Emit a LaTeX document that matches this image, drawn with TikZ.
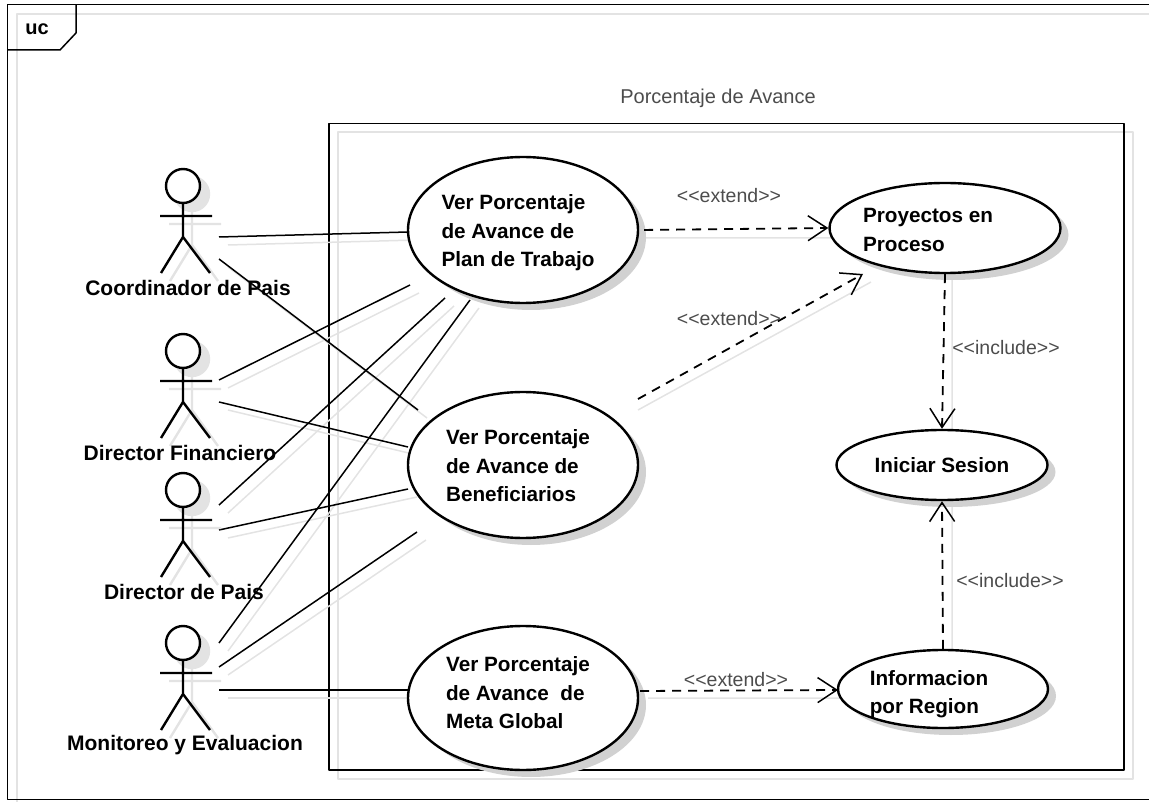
\documentclass[tikz,border=0pt]{standalone}
\usepackage{fontspec}
\setmainfont{Liberation Sans}
\usetikzlibrary{arrows.meta,shapes.geometric,shadows}
\definecolor{sombra}{gray}{.89}
\definecolor{rotulo}{gray}{.3}
\tikzset{
  usecase/.style={ellipse,draw,line width=2.4pt,fill=white,inner sep=0pt,
    drop shadow={shadow xshift=8pt,shadow yshift=-7pt,fill=black!18,opacity=1}},
  casetext/.style={align=left,font=\fontsize{20.7}{28.5}\selectfont\bfseries},
  actorname/.style={font=\fontsize{21}{24}\selectfont\bfseries},
  stereo/.style={text=rotulo,font=\fontsize{19.5}{24}\selectfont},
  dep/.style={dashed,dash pattern=on 9pt off 7pt,line width=1.8pt,-{Straight Barb[length=19pt,width=25pt,line width=1.5pt]}},
  pics/actor/.style={code={
    \draw[sombra,line width=2.4pt,fill=sombra] (9,8) circle (17);
    \draw[sombra,line width=2.4pt] (9,25)--(9,59) (-14,38)--(38,38) (-13,95)--(9,59)--(35,95);
    \draw[line width=2.4pt,fill=white] (0,0) circle (17);
    \draw[line width=2.4pt] (0,17)--(0,51) (-23,30)--(29,30) (-22,87)--(0,51)--(27,87);
  }}
}
\begin{document}
\begin{tikzpicture}[line join=round,>=stealth,x=1pt,y=-1pt]
  \useasboundingbox (0,0) rectangle (1149,802);
  %marco del diagrama
  \draw[sombra,line width=1.5pt] (1149,14) -- (17,14) -- (17,802);
  \draw[line width=1.5pt] (1149,4.5) -- (7.5,4.5) -- (7.5,799.5) -- (1149,799.5);
  \draw[line width=1.5pt] (7.5,50) -- (60,50) -- (76,33) -- (76,4.5);
  \node[font=\fontsize{20}{24}\selectfont\bfseries] (tag) at (37,29) {uc};
  %subsistema
  \draw[sombra,line width=1.5pt] (338,132) rectangle (1133,779);
  \draw[line width=1.5pt] (329,123.5) rectangle (1124,770);
  \node[font=\fontsize{20}{24}\selectfont,text=rotulo] (sistema) at (718,98) {Porcentaje de Avance};
  %extremos libres de las lineas
  \foreach \nom/\x/\y in {cpa/219/237,cpb/219/259,dfa/219/380,dfb/219/402,dpa/219/505,dpb/219/530,
      mea/219/643,meb/219/667,mec/219/690,
      benefa/418/410,planb/410/285,benefb/408/447,planc/445/298,benefc/408/489,pland/470/300,benefd/417/532,
      extini/638/399,extfin/863/274,metaext/640/691,regionw/838/690}
    \coordinate (\nom) at (\x,\y);
  \coordinate (plana) at (408,232);
  \coordinate (metaa) at (408,690);
  %sombras de las lineas
  \foreach \a/\b in {cpa/plana,cpb/benefa,dfa/planb,dfb/benefb,dpa/planc,dpb/benefc,mea/pland,meb/benefd,mec/metaa}
    \draw[sombra,line width=1.5pt] ([shift={(9,8)}]\a) -- ([shift={(9,8)}]\b);
  \draw[sombra,line width=1.5pt] (646,238) -- (838,238) (638,410) -- (871,282) (952,275) -- (952,436) (952,500) -- (952,660) (648,698) -- (846,698);
  %lineas actor - caso de uso
  \foreach \a/\b in {cpa/plana,cpb/benefa,dfa/planb,dfb/benefb,dpa/planc,dpb/benefc,mea/pland,meb/benefd,mec/metaa}
    \draw[line width=1.5pt] (\a) -- (\b);
  %actores
  \foreach \nom/\yc/\xt/\txt in {coordinador/186/188/Coordinador de Pais,financiero/351/180/Director Financiero,
      directorpais/490/184/Director de Pais,monitoreo/643/185/Monitoreo y Evaluacion}{
    \pic at (183,\yc) {actor};
    \node[actorname] (\nom) at (\xt,\yc+102) {\txt};
  }
  %casos de uso
  \node[usecase,minimum width=230pt,minimum height=146pt,label={[casetext,xshift=-5pt,yshift=-3pt]center:Ver Porcentaje\\de Avance de\\Plan de Trabajo}] (plan) at (523,230) {};
  \node[usecase,minimum width=230pt,minimum height=146pt,label={[casetext,xshift=-5pt,yshift=-1pt]center:Ver Porcentaje\\de Avance de\\Beneficiarios}] (benef) at (523,465) {};
  \node[usecase,minimum width=230pt,minimum height=144pt,label={[casetext,xshift=-5pt,yshift=5pt]center:Ver Porcentaje\\de Avance~ de\\Meta Global}] (meta) at (523,698) {};
  \node[usecase,minimum width=231pt,minimum height=90pt,label={[casetext,xshift=-17pt,yshift=-2pt]center:Proyectos en\\Proceso}] (proyectos) at (945,228) {};
  \node[usecase,minimum width=211pt,minimum height=70pt,label={[casetext]center:Iniciar Sesion}] (iniciar) at (942,465) {};
  \node[usecase,minimum width=210pt,minimum height=78pt,label={[casetext,xshift=-14pt,yshift=-5pt]center:Informacion\\por Region}] (region) at (943,689) {};
  %dependencias
  \draw[dep,shorten <=5pt] (plan.east) -- (proyectos.west);
  \draw[dep] (extini) -- (extfin);
  \draw[dep] (proyectos.south) -- (iniciar.north);
  \draw[dep] (region.north) -- (iniciar.south);
  \draw[dep] (metaext) -- (regionw);
  \node[stereo] (exta) at (729,196) {{<}{<}extend{>}{>}};
  \node[stereo] (extb) at (729,319) {{<}{<}extend{>}{>}};
  \node[stereo] (extc) at (736,680) {{<}{<}extend{>}{>}};
  \node[stereo] (inca) at (1006,348) {{<}{<}include{>}{>}};
  \node[stereo] (incb) at (1010,581) {{<}{<}include{>}{>}};
\end{tikzpicture}
\end{document}
